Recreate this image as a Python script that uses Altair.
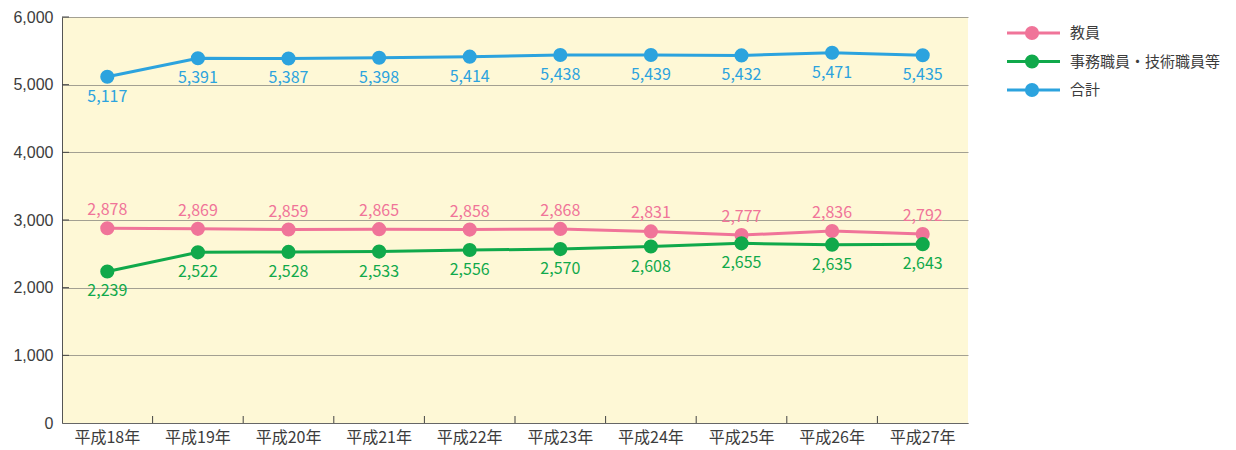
import altair as alt
import pandas as pd

years = ["平成18年", "平成19年", "平成20年", "平成21年", "平成22年",
         "平成23年", "平成24年", "平成25年", "平成26年", "平成27年"]
series_names = ["教員", "事務職員・技術職員等", "合計"]
kyoin = [2878, 2869, 2859, 2865, 2858, 2868, 2831, 2777, 2836, 2792]
jimu = [2239, 2522, 2528, 2533, 2556, 2570, 2608, 2655, 2635, 2643]
total = [5117, 5391, 5387, 5398, 5414, 5438, 5439, 5432, 5471, 5435]
colors = ["#f07499", "#10a94b", "#2ca3de"]
y_ticks = [0, 1000, 2000, 3000, 4000, 5000, 6000]
label_dy = {"教員": -18, "事務職員・技術職員等": 20, "合計": 20}

rows = []
for name, vals in zip(series_names, [kyoin, jimu, total]):
    for yr, v in zip(years, vals):
        rows.append({"year": yr, "series": name, "value": v})
df = pd.DataFrame(rows)
legend_df = pd.DataFrame({"series": series_names})

FONT = "Noto Sans CJK JP"
TXT = "#3c3c3c"
xscale = alt.Scale(type="band", domain=years, paddingInner=0, paddingOuter=0)
yscale = alt.Scale(domain=[0, 6000], nice=False)
cscale = alt.Scale(domain=series_names, range=colors)
color_enc = alt.Color("series:N", scale=cscale, legend=None)

x_axis = alt.Axis(title=None, labelAngle=0, ticks=False, domainColor="#666",
                  labelFontSize=16, labelColor=TXT, labelPadding=6,
                  grid=False, labelFont=FONT)
y_axis = alt.Axis(title=None, values=y_ticks, format=",d", tickSize=0,
                  grid=True, gridColor="#a3a092", domainColor="#555",
                  labelFontSize=16, labelColor=TXT, labelPadding=9,
                  labelFont="Liberation Sans")
x_enc = alt.X("year:O", scale=xscale, bandPosition=0.5, axis=x_axis)
y_enc = alt.Y("value:Q", scale=yscale, axis=y_axis)

base = alt.Chart(df)
line = base.mark_line(strokeWidth=3).encode(x=x_enc, y=y_enc, color=color_enc)
points = base.mark_point(filled=True, size=200, opacity=1).encode(
    x=x_enc, y=y_enc, color=color_enc)

texts = []
for name in series_names:
    texts.append(base.transform_filter(alt.datum.series == name)
                 .mark_text(dy=label_dy[name], fontSize=16, font=FONT)
                 .encode(x=x_enc, y=y_enc,
                         text=alt.Text("value:Q", format=",d"),
                         color=color_enc))

ytick = alt.Chart(pd.DataFrame({"value": y_ticks[1:]})).mark_rule(color="#444", strokeWidth=1).encode(
    y=y_enc, x=alt.value(0), x2=alt.value(7))
xtick = alt.Chart(pd.DataFrame({"year": years[1:]})).mark_rule(color="#444", strokeWidth=1).encode(
    x=alt.X("year:O", scale=xscale, bandPosition=0, axis=x_axis),
    y=alt.value(399), y2=alt.value(406))

main = alt.layer(line, ytick, xtick, points, *texts)

# legend drawn as its own small layer with an independent point scale
ly = alt.Y("series:N", scale=alt.Scale(type="point", domain=series_names, range=[16, 73], padding=0),
           axis=None)
lbase = alt.Chart(legend_df)
leg_line = lbase.mark_rule(strokeWidth=3).encode(
    y=ly, x=alt.value(945), x2=alt.value(998), color=color_enc)
leg_pt = lbase.mark_point(filled=True, size=200, opacity=1).encode(
    y=ly, x=alt.value(970), color=color_enc)
leg_txt = lbase.mark_text(align="left", baseline="middle", fontSize=15, font=FONT, color=TXT).encode(
    y=ly, x=alt.value(1008), text="series:N")
legend = alt.layer(leg_line, leg_pt, leg_txt)

chart = alt.layer(main, legend).resolve_scale(y="independent").properties(
    width=906, height=406,
    autosize=alt.AutoSizeParams(type="none"),
    padding={"left": 54, "top": 9, "right": 260, "bottom": 27},
).configure(font=FONT).configure_view(fill="#fef8d6", stroke=None)

chart.save("out.html", embed_options={"renderer": "svg", "actions": False})
